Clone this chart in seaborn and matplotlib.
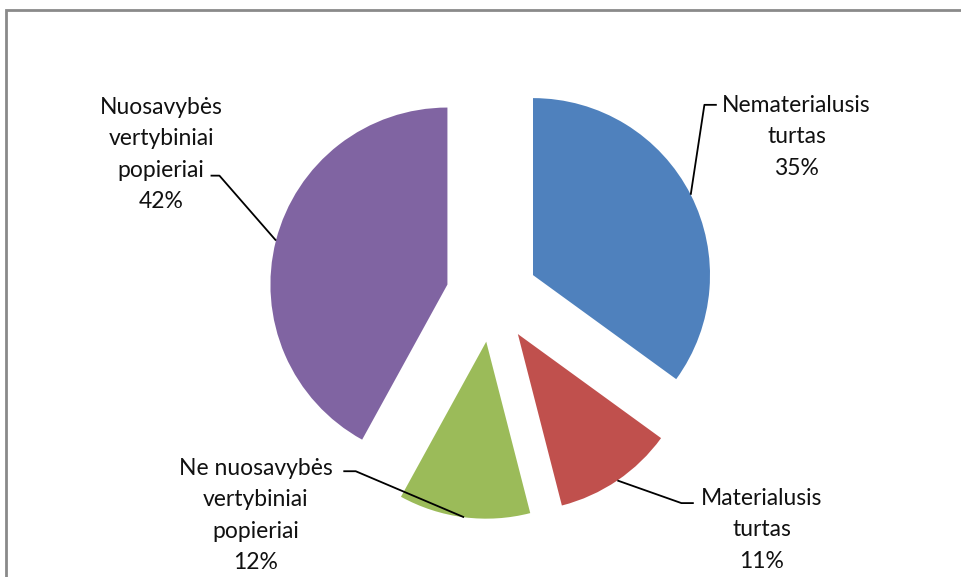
import numpy as np
import matplotlib
matplotlib.use("Agg")
import matplotlib.pyplot as plt
import seaborn as sns
from matplotlib.patches import Rectangle

sns.set_theme(style="white")
plt.rcParams['font.family'] = ['Lato', 'DejaVu Sans']

# data
labels = ["Nematerialusis\nturtas", "Materialusis\nturtas",
          "Ne nuosavybės\nvertybiniai\npopieriai", "Nuosavybės\nvertybiniai\npopieriai"]
shares = [35, 11, 12, 42]
colors = ["#4F81BD", "#C0504D", "#9BBB59", "#8064A2"]

# label layout (data units, pie radius = 1): text centre, leader elbow, leader end
text_pos = [(1.72, 0.90), (1.525, -1.32), (-1.335, -1.24), (-1.87, 0.80)]
elbow_pos = [(1.20, 1.08), (1.07, -1.17), (-0.77, -0.99), (-1.54, 0.68)]
end_pos = [(1.27, 1.08), (1.14, -1.17), (-0.84, -0.99), (-1.59, 0.68)]

explode = 0.26
px = 177.0  # pixels per radius unit
cx, cy = 492, 296

fig = plt.figure(figsize=(9.62, 5.77), dpi=100)
ax = fig.add_axes([0, 0, 1, 1])

wedges, _ = ax.pie(shares, colors=colors, startangle=90, counterclock=False,
                   explode=[explode] * 4, radius=1,
                   wedgeprops=dict(linewidth=0))

for w, lab, val, tp, ep, en in zip(wedges, labels, shares, text_pos, elbow_pos, end_pos):
    mid = np.deg2rad((w.theta1 + w.theta2) / 2)
    ox, oy = w.center
    sx, sy = ox + np.cos(mid), oy + np.sin(mid)
    ax.plot([sx, ep[0], en[0]], [sy, ep[1], en[1]], color='black', lw=1.3,
            solid_capstyle='butt')
    ax.text(tp[0], tp[1], f"{lab}\n{val}%", ha='center', va='center',
            fontsize=16.5, linespacing=1.62, color='#111111')

ax.set_xlim(-cx / px, (962 - cx) / px)
ax.set_ylim(-(577 - cy) / px, cy / px)
ax.set_aspect('equal')
ax.axis('off')

fig.patches.append(Rectangle((6 / 962, -0.05), 1.0, 1.05 - 10 / 577,
                             transform=fig.transFigure, fill=False,
                             edgecolor='#8a8a8a', linewidth=2))

fig.savefig("out.png", dpi=100)
